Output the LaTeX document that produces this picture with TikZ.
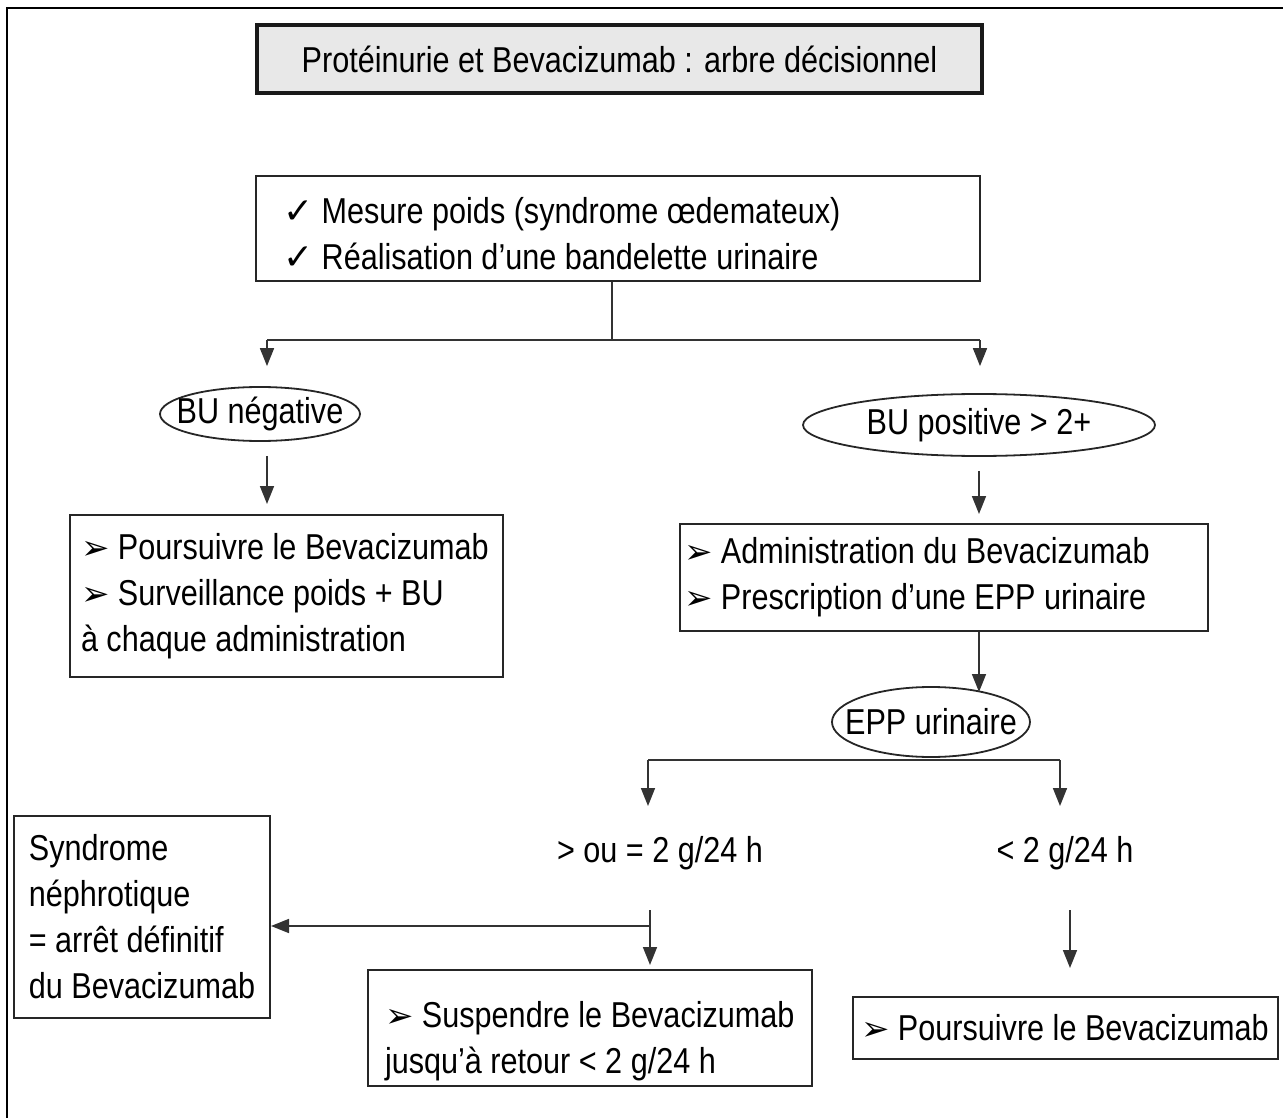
\documentclass[tikz,border=0pt]{standalone}
\usepackage{fontspec}
\setmainfont[FakeStretch=0.85]{Liberation Sans}
\newfontfamily\sym{DejaVu Sans}
\usetikzlibrary{shapes.geometric,arrows.meta}
\newcommand\chk{{\sym ✓}}
\newcommand\arrh{{\fontsize{34}{46}\selectfont\sym ➢}}
\newcommand\ztxt[1]{\makebox[0pt]{#1}}
\begin{document}
\begin{tikzpicture}[x=1pt,y=-1pt,
  font=\fontsize{36}{46}\selectfont,
  box/.style={draw=black!85, line width=2pt, rectangle, align=flush left, inner ysep=0pt},
  ell/.style={draw=black!85, ellipse, line width=1.8pt, inner sep=0pt},
  conn/.style={line width=1.7pt, draw=black!80},
  arr/.style={conn, -{Triangle[width=14pt,length=18pt]}},
  lbl/.style={inner sep=0pt}]
\useasboundingbox (0,0) rectangle (1283,1118);
% outer frame (top and left edges)
\draw[line width=2.5pt] (7,1118) -- (7,8) -- (1283,8);

% title
\node[draw=black!90, line width=4pt, fill=black!9, minimum width=725pt, minimum height=68pt, inner sep=0pt]
  (title) at (619.5,59) {Protéinurie et Bevacizumab : arbre décisionnel};

% first box
\node[box, minimum width=724pt, minimum height=105pt, inner xsep=27pt, text width=670pt]
  (b1) at (618,228.5) {\rule{0pt}{36pt}\chk\ Mesure poids (syndrome œdemateux)\\\chk\ Réalisation d’une bandelette urinaire};

% ellipses
\node[ell, minimum width=200pt, minimum height=54pt] (bun) at (260,414) {\ztxt{BU négative}};
\node[ell, minimum width=352pt, minimum height=62pt] (bup) at (979,425) {\ztxt{BU positive > 2+}};

% left box
\node[box, minimum width=433pt, minimum height=162pt, inner xsep=11pt, text width=411pt]
  (lb) at (286.5,596) {\arrh\ Poursuivre le Bevacizumab\\\arrh\ Surveillance poids + BU\\à chaque administration};

% right box
\node[box, minimum width=528pt, minimum height=107pt, inner xsep=4pt, text width=520pt]
  (b2) at (944,577.5) {\arrh\ Administration du Bevacizumab\\\arrh\ Prescription d’une EPP urinaire};

% EPP ellipse
\node[ell, minimum width=198pt, minimum height=70pt] (epp) at (931,722) {\ztxt{EPP urinaire}};

% thresholds
\node[lbl] (ge) at (660,853) {> ou = 2 g/24 h};
\node[lbl] (lt) at (1065,853) {< 2 g/24 h};

% syndrome box
\node[box, minimum width=256pt, minimum height=202pt, inner xsep=4pt]
  (syn) at (142,917) {Syndrome\\néphrotique\\= arrêt définitif\\du Bevacizumab};

% suspendre box
\node[box, minimum width=444pt, minimum height=116pt, inner xsep=17pt, text width=410pt]
  (sus) at (590,1028) {\rule{0pt}{52pt}\arrh\ Suspendre le Bevacizumab\\jusqu’à retour < 2 g/24 h};

% poursuivre right
\node[box, minimum width=425pt, minimum height=62pt, inner xsep=8pt, text width=409pt]
  (pr) at (1065.5,1028) {\arrh\ Poursuivre le Bevacizumab};

% connectors
\coordinate (j1) at (612,340);
\coordinate (jl) at (267,340);
\coordinate (jr) at (980,340);
\draw[conn] (j1 |- b1.south) -- (j1);
\draw[conn] (jl) -- (jr);
\draw[arr, shorten >=20pt] (jl) -- (jl |- bun.north);
\draw[arr, shorten >=27pt] (jr) -- (jr |- bup.north);

\coordinate (xl) at (267,0);
\draw[arr, shorten <=14pt, shorten >=10pt] (xl |- bun.south) -- (xl |- lb.north);
\coordinate (xr) at (979,0);
\draw[arr, shorten <=14pt, shorten >=9pt] (xr |- bup.south) -- (xr |- b2.north);
\coordinate (eppin) at (979,692);
\draw[arr] (xr |- b2.south) -- (eppin);

\coordinate (sl) at (648,760);
\coordinate (sr) at (1060,760);
\draw[conn] (sl) -- (sr);
\draw[arr, shorten >=30pt] (sl) -- (sl |- ge.north);
\draw[arr, shorten >=30pt] (sr) -- (sr |- lt.north);

\coordinate (k0) at (650,910);
\coordinate (k) at (650,926);
\draw[arr, shorten >=4pt] (k0) -- (k0 |- sus.north);
\draw[arr] (k) -- (k -| syn.east);

\coordinate (m0) at (1070,910);
\draw[arr, shorten >=28pt] (m0) -- (m0 |- pr.north);
\end{tikzpicture}
\end{document}
